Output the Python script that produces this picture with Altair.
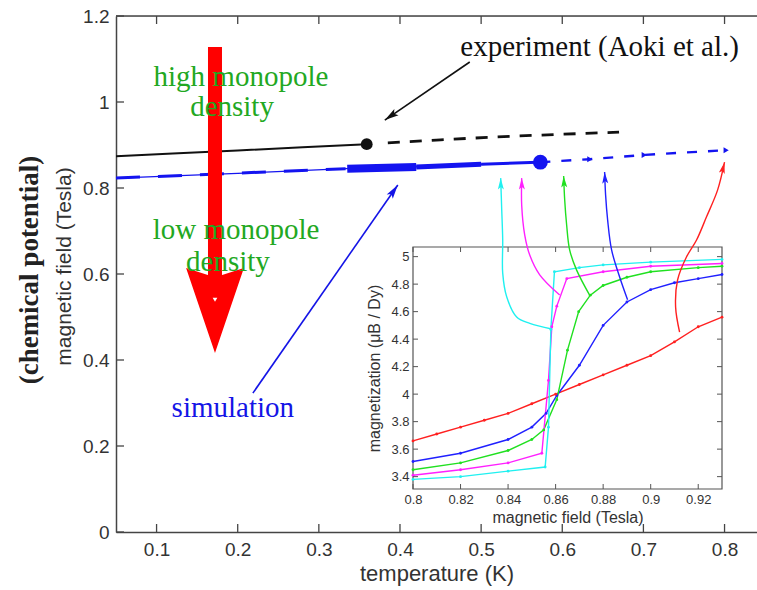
import altair as alt
import pandas as pd

# ---------------- main panel (temperature in K, magnetic field in Tesla) ----------------
T_TICKS = [0.1, 0.2, 0.3, 0.4, 0.5, 0.6, 0.7, 0.8]
F_TICKS = [0, 0.2, 0.4, 0.6, 0.8, 1.0, 1.2]

exp_T = [0.05, 0.12, 0.20, 0.28, 0.359]
exp_F = [0.874, 0.880, 0.887, 0.895, 0.902]
exp_dash_T = [0.385, 0.45, 0.52, 0.60, 0.67]
exp_dash_F = [0.905, 0.912, 0.919, 0.925, 0.930]
exp_dot_T = [0.359]
exp_dot_F = [0.902]

sim_T = [0.05, 0.20, 0.333, 0.45, 0.573]
sim_F = [0.823, 0.834, 0.845, 0.851, 0.860]
sim_left_T = [0.05, 0.333]
sim_left_F = [0.823, 0.845]
band_T = [0.335, 0.42, 0.42, 0.50, 0.50, 0.57]
band_F = [0.845, 0.849, 0.849, 0.855, 0.855, 0.860]
band_seg = ["a", "a", "b", "b", "c", "c"]
band_w = [8, 8, 5, 5, 3, 3]
sim_dash_T = [0.573, 0.634, 0.701, 0.802]
sim_dash_F = [0.860, 0.867, 0.877, 0.888]
sim_dot_T = [0.573]
sim_dot_F = [0.860]
sim_mark_T = [0.634, 0.701, 0.802]
sim_mark_F = [0.867, 0.877, 0.888]

# big red arrow (monopole density direction)
red_T = [0.172]
red_F_top = [1.128]
red_F_bottom = [0.57]
red_head_F = [0.515]
red_v_F = [0.54]

# annotation arrows (start -> tip)
ann_name = ["exp", "exp", "sim", "sim"]
ann_T = [0.486, 0.3813, 0.2187, 0.3973]
ann_F = [1.093, 0.958, 0.323, 0.807]
ann_col = ["#111111", "#111111", "#1414e6", "#1414e6"]

# curved arrows from inset curves to the phase line
cyan_T = [0.587, 0.560, 0.5438, 0.5315, 0.5266, 0.5266, 0.5254, 0.5241]
cyan_F = [0.472, 0.485, 0.500, 0.547, 0.602, 0.679, 0.749, 0.823]
mag_T = [0.5968, 0.5722, 0.5599, 0.5537, 0.5500, 0.5500]
mag_F = [0.551, 0.598, 0.644, 0.691, 0.760, 0.823]
grn_T = [0.6337, 0.6177, 0.6091, 0.6054, 0.6030, 0.6017]
grn_F = [0.551, 0.609, 0.656, 0.714, 0.772, 0.828]
blu_T = [0.6805, 0.6707, 0.6608, 0.6559, 0.6534, 0.6522]
blu_F = [0.540, 0.593, 0.656, 0.726, 0.784, 0.837]
red_cT = [0.7446, 0.7397, 0.7421, 0.7532, 0.7655, 0.7778, 0.7914, 0.800]
red_cF = [0.465, 0.523, 0.586, 0.640, 0.679, 0.733, 0.795, 0.860]

# ---------------- inset (magnetic field in Tesla, magnetization in muB/Dy) ----------------
B_TICKS = [0.8, 0.82, 0.84, 0.86, 0.88, 0.9, 0.92]
M_TICKS = [3.4, 3.6, 3.8, 4.0, 4.2, 4.4, 4.6, 4.8, 5.0]

in_red_B = [0.80, 0.81, 0.82, 0.83, 0.84, 0.85, 0.86, 0.87, 0.88, 0.89, 0.90, 0.91, 0.92, 0.93]
in_red_M = [3.66, 3.71, 3.76, 3.81, 3.86, 3.93, 4.00, 4.07, 4.14, 4.21, 4.28, 4.38, 4.49, 4.56]
in_blu_B = [0.80, 0.82, 0.84, 0.85, 0.856, 0.8605, 0.87, 0.88, 0.89, 0.90, 0.91, 0.92, 0.93]
in_blu_M = [3.51, 3.57, 3.67, 3.76, 3.86, 3.99, 4.21, 4.50, 4.67, 4.76, 4.81, 4.84, 4.87]
in_grn_B = [0.80, 0.82, 0.84, 0.85, 0.855, 0.8605, 0.865, 0.8697, 0.8746, 0.88, 0.89, 0.90, 0.92, 0.93]
in_grn_M = [3.45, 3.50, 3.59, 3.67, 3.74, 3.96, 4.32, 4.60, 4.72, 4.79, 4.85, 4.89, 4.92, 4.93]
in_mag_B = [0.80, 0.82, 0.84, 0.8542, 0.857, 0.8584, 0.8605, 0.8647, 0.88, 0.90, 0.93]
in_mag_M = [3.41, 3.45, 3.50, 3.57, 4.10, 4.49, 4.64, 4.84, 4.89, 4.93, 4.95]
in_cyn_B = [0.80, 0.82, 0.84, 0.8556, 0.857, 0.858, 0.8595, 0.87, 0.88, 0.90, 0.93]
in_cyn_M = [3.38, 3.40, 3.44, 3.47, 3.76, 4.47, 4.89, 4.92, 4.94, 4.96, 4.98]

SERIES = ["red", "blue", "green", "magenta", "cyan"]
SER_COL = ["#ff2020", "#2020ff", "#20e020", "#ff20ff", "#20f0f0"]

# ---------------- layout ----------------
W, H = 641, 516
IN_X = [297, 606]   # inset x range inside the plot area
IN_Y = [473, 231]   # inset y range inside the plot area
SANS = "Liberation Sans"
SERIF = "Liberation Serif"
GREY = "#333333"

xs_main = alt.Scale(domain=[0.05, 0.84], nice=False, zero=False)
ys_main = alt.Scale(domain=[0, 1.2], nice=False, zero=False)
x_axis_main = alt.Axis(orient="bottom", values=T_TICKS, format="~g", title="temperature (K)",
                       ticks=False, grid=False, labelFlush=False, labelOverlap=False,
                       labelFont=SANS, labelFontSize=19, labelColor=GREY, labelPadding=8,
                       titleFont=SANS, titleFontSize=22, titleColor=GREY, titleFontWeight="normal",
                       titlePadding=4, domainColor="#444444", domainWidth=1.5)
y_axis_main = alt.Axis(orient="left", values=F_TICKS, format="~g", title="magnetic field (Tesla)",
                       ticks=False, grid=False, labelFlush=False, labelOverlap=False,
                       labelFont=SANS, labelFontSize=19, labelColor=GREY, labelPadding=7,
                       titleFont=SANS, titleFontSize=21, titleColor=GREY, titleFontWeight="normal",
                       titlePadding=8, titleY=250, domainColor="#444444", domainWidth=1.5)


def MX(field="T"):
    return alt.X(f"{field}:Q", scale=xs_main, axis=x_axis_main)


def MY(field="F"):
    return alt.Y(f"{field}:Q", scale=ys_main, axis=y_axis_main)


xs_in = alt.Scale(domain=[0.8, 0.93], range=IN_X, nice=False, zero=False)
ys_in = alt.Scale(domain=[3.31, 5.07], range=IN_Y, nice=False, zero=False)
x_axis_in = alt.Axis(orient="bottom", offset=IN_Y[0] - H, values=B_TICKS, format="~g",
                     title="magnetic field (Tesla)", ticks=False, grid=False, domain=False,
                     labelFlush=False, labelOverlap=False,
                     labelFont=SANS, labelFontSize=13, labelColor=GREY, labelPadding=4,
                     titleFont=SANS, titleFontSize=16, titleColor=GREY, titleFontWeight="normal",
                     titlePadding=3)
y_axis_in = alt.Axis(orient="left", offset=-IN_X[0], values=M_TICKS, format="~g",
                     title="magnetization (μB / Dy)", ticks=False, grid=False, domain=False,
                     labelFlush=False, labelOverlap=False,
                     labelFont=SANS, labelFontSize=13, labelColor=GREY, labelPadding=4,
                     titleFont=SANS, titleFontSize=16, titleColor=GREY, titleFontWeight="normal",
                     titlePadding=8)


def IX(field="B"):
    return alt.X(f"{field}:Q", scale=xs_in, axis=x_axis_in)


def IY(field="M"):
    return alt.Y(f"{field}:Q", scale=ys_in, axis=y_axis_in)


# ---------------- inset group ----------------
box_df = pd.DataFrame({"B": [0.8], "B2": [0.93], "M": [3.31], "M2": [5.07]})
inset_box = alt.Chart(box_df).mark_rect(fill="white", stroke="#555555", strokeWidth=1.2).encode(
    x=IX("B"), x2="B2", y=IY("M"), y2="M2")

rows = []
for name, bs, ms in zip(SERIES, [in_red_B, in_blu_B, in_grn_B, in_mag_B, in_cyn_B],
                        [in_red_M, in_blu_M, in_grn_M, in_mag_M, in_cyn_M]):
    for i, (b, m) in enumerate(zip(bs, ms)):
        rows.append({"B": b, "M": m, "s": name, "i": i})
in_df = pd.DataFrame(rows)
inset_lines = alt.Chart(in_df).mark_line(strokeWidth=1.4, point=alt.OverlayMarkDef(size=8, filled=True, opacity=1)).encode(
    x=IX(), y=IY(), order="i:Q",
    color=alt.Color("s:N", scale=alt.Scale(domain=SERIES, range=SER_COL), legend=None))

bt_df = pd.DataFrame({"B": B_TICKS})
mt_df = pd.DataFrame({"M": M_TICKS})
in_ticks = alt.layer(
    alt.Chart(bt_df).mark_rule(color="#555555").encode(x=IX(), y=alt.value(IN_Y[0]), y2=alt.value(IN_Y[0] - 5)),
    alt.Chart(bt_df).mark_rule(color="#555555").encode(x=IX(), y=alt.value(IN_Y[1]), y2=alt.value(IN_Y[1] + 5)),
    alt.Chart(mt_df).mark_rule(color="#555555").encode(y=IY(), x=alt.value(IN_X[0]), x2=alt.value(IN_X[0] + 5)),
    alt.Chart(mt_df).mark_rule(color="#555555").encode(y=IY(), x=alt.value(IN_X[1]), x2=alt.value(IN_X[1] - 5)),
)

inset_group = alt.layer(inset_box, inset_lines, in_ticks)

# ---------------- main group ----------------
exp_line = alt.Chart(pd.DataFrame({"T": exp_T, "F": exp_F})).mark_line(color="#111111", strokeWidth=2).encode(x=MX(), y=MY())
exp_dash = alt.Chart(pd.DataFrame({"T": exp_dash_T, "F": exp_dash_F})).mark_line(
    color="#111111", strokeWidth=2.8, strokeDash=[12, 10]).encode(x=MX(), y=MY())
exp_dot = alt.Chart(pd.DataFrame({"T": exp_dot_T, "F": exp_dot_F})).mark_point(
    filled=True, color="#111111", size=140, opacity=1).encode(x=MX(), y=MY())

sim_line = alt.Chart(pd.DataFrame({"T": sim_T, "F": sim_F})).mark_line(color="#1414f0", strokeWidth=1.3).encode(x=MX(), y=MY())
sim_left = alt.Chart(pd.DataFrame({"T": sim_left_T, "F": sim_left_F})).mark_line(
    color="#1414f0", strokeWidth=3, strokeDash=[24, 18]).encode(x=MX(), y=MY())
sim_band = alt.Chart(pd.DataFrame({"T": band_T, "F": band_F, "seg": band_seg, "w": band_w})).mark_line(
    color="#1414f0").encode(x=MX(), y=MY(), detail="seg:N", strokeWidth=alt.StrokeWidth("w:Q", scale=None))
sim_dash = alt.Chart(pd.DataFrame({"T": sim_dash_T, "F": sim_dash_F})).mark_line(
    color="#1414f0", strokeWidth=2.4, strokeDash=[10, 11]).encode(x=MX(), y=MY())
sim_dot = alt.Chart(pd.DataFrame({"T": sim_dot_T, "F": sim_dot_F})).mark_point(
    filled=True, color="#1414f0", size=220, opacity=1).encode(x=MX(), y=MY())
sim_marks = alt.Chart(pd.DataFrame({"T": sim_mark_T, "F": sim_mark_F})).mark_point(
    filled=True, color="#1414f0", size=36, opacity=1, shape="triangle-right").encode(x=MX(), y=MY())

red_df = pd.DataFrame({"T": red_T, "Ft": red_F_top, "Fb": red_F_bottom, "Fh": red_head_F, "Fv": red_v_F})
red_shaft = alt.Chart(red_df).mark_rule(color="#ff0000", strokeWidth=14, strokeCap="butt").encode(
    x=MX(), y=MY("Ft"), y2="Fb:Q")
red_head = alt.Chart(red_df).mark_point(
    shape="M0,1L-0.68,-1L-0.15,-0.83L0.15,-0.83L0.68,-1Z", size=7225, filled=True,
    color="#ff0000", opacity=1, strokeWidth=0).encode(x=MX(), y=MY("Fh"))
red_v = alt.Chart(red_df).mark_point(shape="triangle-down", size=22, filled=True, color="white", opacity=1).encode(
    x=MX(), y=MY("Fv"))

ann_df = pd.DataFrame({"T": ann_T, "F": ann_F, "n": ann_name, "c": ann_col, "i": [0, 1, 0, 1]})
ann_lines = alt.Chart(ann_df).mark_line(strokeWidth=1.6).encode(
    x=MX(), y=MY(), detail="n:N", order="i:Q", color=alt.Color("c:N", scale=None))

crow = []
for name, col, ts, fs in zip(SERIES, SER_COL, [red_cT, blu_T, grn_T, mag_T, cyan_T],
                             [red_cF, blu_F, grn_F, mag_F, cyan_F]):
    for i, (t, f) in enumerate(zip(ts, fs)):
        crow.append({"T": t, "F": f, "s": name, "c": col, "i": i})
curve_df = pd.DataFrame(crow)
curves = alt.Chart(curve_df).mark_line(strokeWidth=1.4, interpolate="catmull-rom").encode(
    x=MX(), y=MY(), detail="s:N", order="i:Q", color=alt.Color("c:N", scale=None))

head_df = pd.DataFrame({
    "T": [ann_T[1], ann_T[3]],
    "F": [ann_F[1], ann_F[3]],
    "a": [235.7, 34.9],
    "c": [ann_col[1], ann_col[3]],
})
heads_big = alt.Chart(head_df).mark_point(
    shape="M0,0L0.5,1.9L0,1.5L-0.5,1.9Z", size=220, filled=True, opacity=1, strokeWidth=0).encode(
    x=MX(), y=MY(), angle=alt.Angle("a:Q", scale=None), color=alt.Color("c:N", scale=None))
chead_df = pd.DataFrame({
    "T": [red_cT[-1], blu_T[-1], grn_T[-1], mag_T[-1], cyan_T[-1]],
    "F": [red_cF[-1], blu_F[-1], grn_F[-1], mag_F[-1], cyan_F[-1]],
    "a": [14, 357, 357, 359, 359],
    "c": SER_COL,
})
heads_small = alt.Chart(chead_df).mark_point(
    shape="M0,0L0.5,1.9L0,1.5L-0.5,1.9Z", size=144, filled=True, opacity=1, strokeWidth=0).encode(
    x=MX(), y=MY(), angle=alt.Angle("a:Q", scale=None), color=alt.Color("c:N", scale=None))

txt_df = pd.DataFrame({
    "T": [0.204, 0.193, 0.198, 0.188, 0.646, 0.194],
    "F": [1.058, 0.988, 0.702, 0.628, 1.128, 0.288],
    "txt": ["high monopole", "density", "low monopole", "density", "experiment (Aoki et al.)", "simulation"],
    "c": ["#22a822", "#22a822", "#22a822", "#22a822", "#111111", "#1414e6"],
})
texts = alt.Chart(txt_df).mark_text(font=SERIF, fontSize=29, align="center", baseline="middle").encode(
    x=MX(), y=MY(), text="txt:N", color=alt.Color("c:N", scale=None))

tt_df = pd.DataFrame({"T": T_TICKS})
ft_df = pd.DataFrame({"F": F_TICKS})
main_ticks = alt.layer(
    alt.Chart(tt_df).mark_rule(color="#444444", strokeWidth=1.3).encode(x=MX(), y=alt.value(H), y2=alt.value(H - 8)),
    alt.Chart(tt_df).mark_rule(color="#444444", strokeWidth=1.3).encode(x=MX(), y=alt.value(0), y2=alt.value(8)),
    alt.Chart(ft_df).mark_rule(color="#444444", strokeWidth=1.3).encode(y=MY(), x=alt.value(0), x2=alt.value(8)),
)
top_border = alt.Chart(pd.DataFrame({"k": [0]})).mark_rule(color="#444444", strokeWidth=1.5).encode(
    x=alt.value(0), x2=alt.value(W), y=alt.value(0))
chem = alt.Chart(pd.DataFrame({"txt": ["(chemical potential)"]})).mark_text(
    font=SERIF, fontSize=27, fontWeight="bold", angle=270, align="center", baseline="middle", color="#222222").encode(
    x=alt.value(-86), y=alt.value(254), text="txt:N")

main_group = alt.layer(
    exp_line, exp_dash, exp_dot,
    sim_line, sim_left, sim_band, sim_dash, sim_dot, sim_marks,
    red_shaft, red_head, red_v,
    ann_lines, curves, heads_big, heads_small,
    texts, main_ticks, top_border, chem,
)

chart = alt.layer(inset_group, main_group).resolve_scale(
    x="independent", y="independent", color="independent"
).properties(
    width=W, height=H,
    padding={"left": 116, "top": 16, "right": 0, "bottom": 58},
    autosize=alt.AutoSizeParams(type="none"),
).configure_view(stroke=None).configure(background="white")

chart.save("out.html", embed_options={"renderer": "svg", "actions": False})
